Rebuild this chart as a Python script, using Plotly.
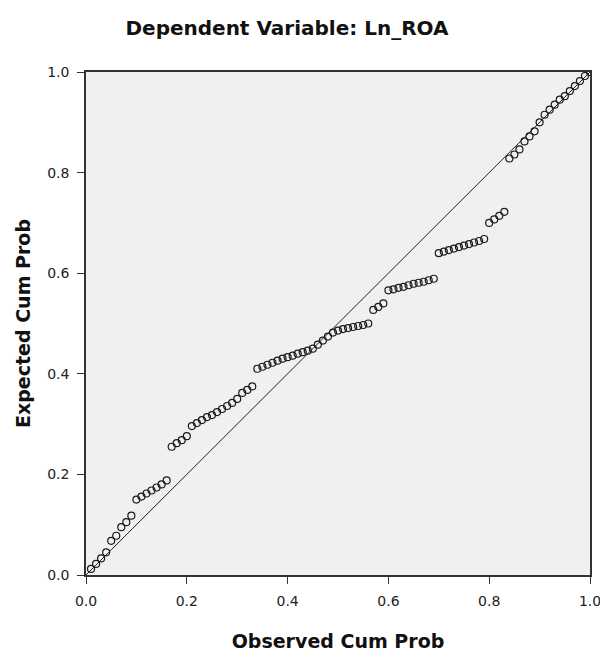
import plotly.graph_objects as go

observed_cum_prob = [
    0.01, 0.02, 0.03, 0.04, 0.05, 0.06, 0.07, 0.08, 0.09, 0.10,
    0.11, 0.12, 0.13, 0.14, 0.15, 0.16, 0.17, 0.18, 0.19, 0.20,
    0.21, 0.22, 0.23, 0.24, 0.25, 0.26, 0.27, 0.28, 0.29, 0.30,
    0.31, 0.32, 0.33, 0.34, 0.35, 0.36, 0.37, 0.38, 0.39, 0.40,
    0.41, 0.42, 0.43, 0.44, 0.45, 0.46, 0.47, 0.48, 0.49, 0.50,
    0.51, 0.52, 0.53, 0.54, 0.55, 0.56, 0.57, 0.58, 0.59, 0.60,
    0.61, 0.62, 0.63, 0.64, 0.65, 0.66, 0.67, 0.68, 0.69, 0.70,
    0.71, 0.72, 0.73, 0.74, 0.75, 0.76, 0.77, 0.78, 0.79, 0.80,
    0.81, 0.82, 0.83, 0.84, 0.85, 0.86, 0.87, 0.88, 0.89, 0.90,
    0.91, 0.92, 0.93, 0.94, 0.95, 0.96, 0.97, 0.98, 0.99, 1.00,
]
expected_cum_prob = [
    0.012, 0.022, 0.033, 0.045, 0.068, 0.078, 0.095, 0.105, 0.118, 0.150,
    0.156, 0.162, 0.168, 0.174, 0.180, 0.188, 0.255, 0.262, 0.268, 0.276,
    0.296, 0.302, 0.308, 0.314, 0.318, 0.324, 0.330, 0.336, 0.342, 0.350,
    0.362, 0.368, 0.375, 0.410, 0.414, 0.418, 0.422, 0.426, 0.430, 0.433,
    0.436, 0.440, 0.443, 0.446, 0.450, 0.458, 0.466, 0.474, 0.482, 0.486,
    0.489, 0.491, 0.493, 0.495, 0.497, 0.500, 0.527, 0.533, 0.540, 0.566,
    0.568, 0.571, 0.573, 0.576, 0.579, 0.581, 0.583, 0.586, 0.589, 0.640,
    0.643, 0.646, 0.649, 0.652, 0.655, 0.658, 0.661, 0.664, 0.668, 0.700,
    0.707, 0.714, 0.722, 0.828, 0.836, 0.846, 0.862, 0.872, 0.882, 0.900,
    0.915, 0.925, 0.935, 0.945, 0.952, 0.962, 0.972, 0.982, 0.992, 1.000,
]
reference_line = [0.0, 1.0]
tick_values = [0.0, 0.2, 0.4, 0.6, 0.8, 1.0]
tick_labels = ["0.0", "0.2", "0.4", "0.6", "0.8", "1.0"]

FONT = "DejaVu Sans, Arial"

fig = go.Figure()
fig.add_trace(go.Scatter(
    x=reference_line, y=reference_line, mode="lines",
    line=dict(color="#222222", width=1), hoverinfo="skip", showlegend=False,
))
fig.add_trace(go.Scatter(
    x=observed_cum_prob, y=expected_cum_prob, mode="markers",
    marker=dict(symbol="circle-open", size=7, color="#1a1a1a", line=dict(width=1.2)),
    showlegend=False,
))

axis_common = dict(
    range=[0, 1], tickvals=tick_values, ticktext=tick_labels,
    showgrid=False, zeroline=False, showline=True, mirror=True,
    linecolor="#333333", linewidth=1.5, ticks="outside", ticklen=7,
    tickcolor="#333333", ticklabelstandoff=5, automargin=False,
    ticklabeloverflow="allow",
    tickfont=dict(family=FONT, size=14, color="#222222"),
)

fig.update_layout(
    width=600, height=654,
    margin=dict(l=86, r=10, t=72, b=79),
    paper_bgcolor="white", plot_bgcolor="#f0f0f0",
    title=dict(
        text="<b>Dependent Variable: Ln_ROA</b>",
        x=287 / 600, xanchor="center", xref="container",
        y=1 - 28 / 654, yanchor="middle", yref="container",
        font=dict(family=FONT, size=20, color="#111111"),
    ),
    xaxis=dict(
        **axis_common,
        title=dict(text="<b>Observed Cum Prob</b>", standoff=27,
                   font=dict(family=FONT, size=19, color="#111111")),
    ),
    yaxis=dict(
        **axis_common,
        title=dict(text="<b>Expected Cum Prob</b>", standoff=12,
                   font=dict(family=FONT, size=19, color="#111111")),
    ),
)

fig.write_html("out.html", config={"displayModeBar": False},
               post_script="document.body.style.margin='0';")
